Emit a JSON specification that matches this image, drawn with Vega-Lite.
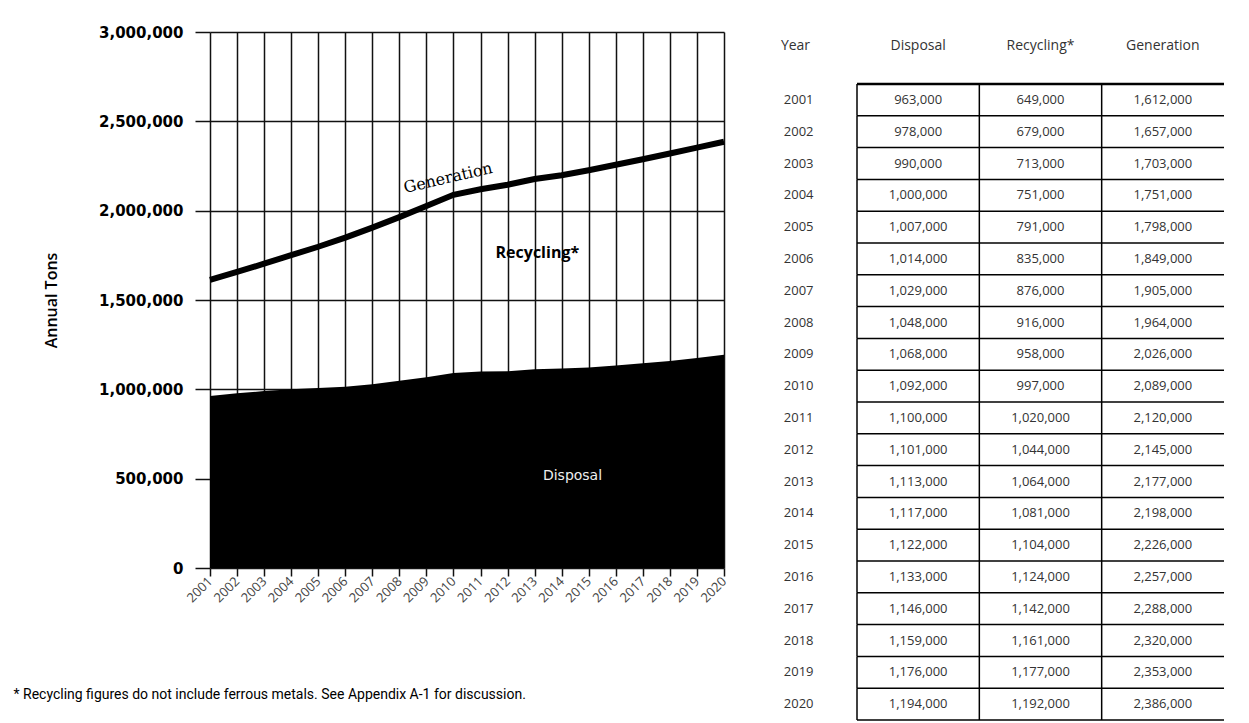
{
  "$schema": "https://vega.github.io/schema/vega-lite/v6.json",
  "padding": {"left": 13, "top": 25, "right": 5, "bottom": 0},
  "background": "white",
  "spacing": 44,
  "config": {"view": {"stroke": null}, "font": "Open Sans"},
  "datasets": {
    "waste": [
      {"Year": 2001, "Disposal": 963000, "Recycling": 649000, "Generation": 1612000},
      {"Year": 2002, "Disposal": 978000, "Recycling": 679000, "Generation": 1657000},
      {"Year": 2003, "Disposal": 990000, "Recycling": 713000, "Generation": 1703000},
      {"Year": 2004, "Disposal": 1000000, "Recycling": 751000, "Generation": 1751000},
      {"Year": 2005, "Disposal": 1007000, "Recycling": 791000, "Generation": 1798000},
      {"Year": 2006, "Disposal": 1014000, "Recycling": 835000, "Generation": 1849000},
      {"Year": 2007, "Disposal": 1029000, "Recycling": 876000, "Generation": 1905000},
      {"Year": 2008, "Disposal": 1048000, "Recycling": 916000, "Generation": 1964000},
      {"Year": 2009, "Disposal": 1068000, "Recycling": 958000, "Generation": 2026000},
      {"Year": 2010, "Disposal": 1092000, "Recycling": 997000, "Generation": 2089000},
      {"Year": 2011, "Disposal": 1100000, "Recycling": 1020000, "Generation": 2120000},
      {"Year": 2012, "Disposal": 1101000, "Recycling": 1044000, "Generation": 2145000},
      {"Year": 2013, "Disposal": 1113000, "Recycling": 1064000, "Generation": 2177000},
      {"Year": 2014, "Disposal": 1117000, "Recycling": 1081000, "Generation": 2198000},
      {"Year": 2015, "Disposal": 1122000, "Recycling": 1104000, "Generation": 2226000},
      {"Year": 2016, "Disposal": 1133000, "Recycling": 1124000, "Generation": 2257000},
      {"Year": 2017, "Disposal": 1146000, "Recycling": 1142000, "Generation": 2288000},
      {"Year": 2018, "Disposal": 1159000, "Recycling": 1161000, "Generation": 2320000},
      {"Year": 2019, "Disposal": 1176000, "Recycling": 1177000, "Generation": 2353000},
      {"Year": 2020, "Disposal": 1194000, "Recycling": 1192000, "Generation": 2386000}
    ]
  },
  "hconcat": [
    {
      "width": 514,
      "height": 536,
      "data": {"name": "waste"},
      "encoding": {
        "x": {
          "field": "Year",
          "type": "quantitative",
          "title": "* Recycling figures do not include ferrous metals.  See Appendix A-1 for discussion.",
          "scale": {"domain": [2001, 2020], "nice": false, "zero": false},
          "axis": {
            "values": [2001, 2002, 2003, 2004, 2005, 2006, 2007, 2008, 2009, 2010, 2011, 2012, 2013, 2014, 2015, 2016, 2017, 2018, 2019, 2020],
            "format": "d",
            "labelAngle": -45,
            "labelAlign": "right",
            "labelBaseline": "middle",
            "labelFlush": false,
            "labelOverlap": false,
            "labelBound": false,
            "labelPadding": 3,
            "labelFontSize": 13,
            "labelColor": "#444",
            "tickSize": 8,
            "tickColor": "#111",
            "tickWidth": 1.5,
            "domain": false,
            "grid": true,
            "gridColor": "#111",
            "gridWidth": 1.5,
            "gridOpacity": 1,
            "titleX": -197,
            "titleY": 126,
            "titleAlign": "left",
            "titleAnchor": "start",
            "titleBaseline": "middle",
            "titleFont": "Roboto",
            "titleFontSize": 14,
            "titleFontWeight": "normal",
            "titleColor": "#000"
          }
        }
      },
      "layer": [
        {
          "mark": {"type": "area", "color": "#000", "opacity": 1},
          "encoding": {
            "y": {
              "field": "Disposal",
              "type": "quantitative",
              "title": "Annual Tons",
              "scale": {"domain": [0, 3000000], "nice": false},
              "axis": {
                "values": [0, 500000, 1000000, 1500000, 2000000, 2500000, 3000000],
                "format": ",d",
                "tickSize": 15,
                "tickColor": "#111",
                "tickWidth": 1.5,
                "labelPadding": 12,
                "labelFont": "DejaVu Sans",
                "labelFontSize": 15,
                "labelFontWeight": "bold",
                "labelColor": "#000",
                "domain": false,
                "grid": true,
                "gridColor": "#111",
                "gridWidth": 1.5,
                "gridOpacity": 1,
                "titleFont": "Open Sans",
                "titleFontSize": 16,
                "titleFontWeight": 600,
                "titleColor": "#000",
                "titlePadding": 39
              }
            }
          }
        },
        {
          "mark": {"type": "line", "color": "#000", "strokeWidth": 6},
          "encoding": {
            "y": {"field": "Generation", "type": "quantitative", "title": "Annual Tons"}
          }
        },
        {
          "data": {"values": [{"Year": 2009.8, "tons": 2183000, "label": "Generation"}]},
          "mark": {"type": "text", "font": "DejaVu Serif", "fontSize": 16, "angle": -13, "color": "#000"},
          "encoding": {
            "y": {"field": "tons", "type": "quantitative", "title": "Annual Tons"},
            "text": {"field": "label"}
          }
        },
        {
          "data": {"values": [{"Year": 2013.1, "tons": 1763000, "label": "Recycling*"}]},
          "mark": {"type": "text", "font": "Open Sans", "fontSize": 16, "fontWeight": "bold", "color": "#000"},
          "encoding": {
            "y": {"field": "tons", "type": "quantitative", "title": "Annual Tons"},
            "text": {"field": "label"}
          }
        },
        {
          "data": {"values": [{"Year": 2014.4, "tons": 515000, "label": "Disposal"}]},
          "mark": {"type": "text", "font": "DejaVu Sans", "fontSize": 14, "color": "#eee"},
          "encoding": {
            "y": {"field": "tons", "type": "quantitative", "title": "Annual Tons"},
            "text": {"field": "label"}
          }
        }
      ]
    },
    {
      "width": 367,
      "height": 688,
      "data": {"name": "waste"},
      "transform": [{"fold": ["Disposal", "Recycling", "Generation"], "as": ["col", "val"]}],
      "layer": [
        {
          "mark": {"type": "text", "fontSize": 13, "color": "#333"},
          "encoding": {
            "y": {
              "field": "Year",
              "type": "ordinal",
              "title": "Year",
              "scale": {"paddingInner": 0, "paddingOuter": 0, "range": [52, 688]},
              "axis": {
                "orient": "left",
                "domain": false,
                "ticks": false,
                "labelPadding": 44,
                "labelFontSize": 13,
                "labelColor": "#333",
                "labelAlign": "right",
                "titleAngle": 0,
                "titleX": -62,
                "titleY": 13,
                "titleAlign": "center",
                "titleBaseline": "middle",
                "titleFontSize": 14,
                "titleFontWeight": "normal",
                "titleColor": "#333"
              }
            },
            "x": {
              "field": "col",
              "type": "nominal",
              "title": null,
              "scale": {"domain": ["Disposal", "Recycling", "Generation"], "paddingInner": 0, "paddingOuter": 0},
              "axis": {
                "orient": "top",
                "offset": -13,
                "domain": false,
                "ticks": false,
                "tickSize": 0,
                "labelAngle": 0,
                "labelBaseline": "middle",
                "labelPadding": 0,
                "labelFontSize": 14,
                "labelColor": "#333",
                "labelExpr": "datum.value == 'Recycling' ? 'Recycling*' : datum.value"
              }
            },
            "text": {"field": "val", "type": "quantitative", "format": ","}
          }
        },
        {
          "transform": [{"filter": "datum.col == 'Disposal'"}],
          "mark": {"type": "rule", "color": "#000", "strokeWidth": 1.5},
          "encoding": {"y": {"field": "Year", "type": "ordinal", "bandPosition": 0}}
        },
        {
          "transform": [{"filter": "datum.col == 'Disposal' && datum.Year == 2001"}],
          "mark": {"type": "rule", "color": "#000", "strokeWidth": 2.5},
          "encoding": {"y": {"field": "Year", "type": "ordinal", "bandPosition": 0}}
        },
        {
          "transform": [{"filter": "datum.col == 'Disposal' && datum.Year == 2020"}],
          "mark": {"type": "rule", "color": "#000", "strokeWidth": 1.5},
          "encoding": {"y": {"field": "Year", "type": "ordinal", "bandPosition": 1}}
        },
        {
          "mark": {"type": "rule", "color": "#000", "strokeWidth": 1.5},
          "encoding": {
            "x": {"field": "col", "type": "nominal", "bandPosition": 0},
            "y": {"field": "Year", "type": "ordinal", "bandPosition": 0},
            "y2": {"field": "Year", "bandPosition": 1}
          }
        }
      ]
    }
  ]
}
